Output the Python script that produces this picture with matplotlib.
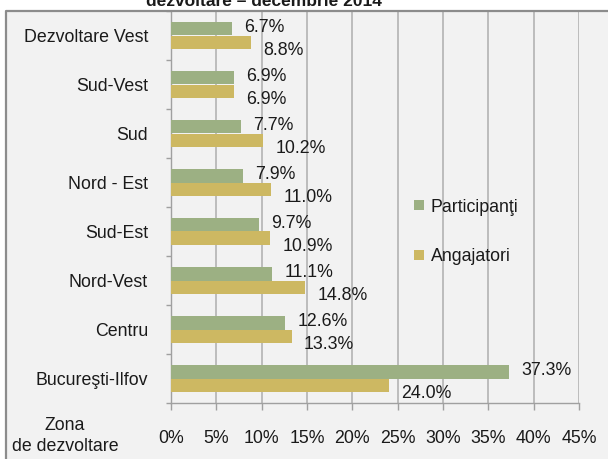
import matplotlib
matplotlib.use("Agg")
import matplotlib.pyplot as plt
import numpy as np
from matplotlib.lines import Line2D
from matplotlib.patches import Rectangle

categories = ["Dezvoltare Vest", "Sud-Vest", "Sud", "Nord - Est", "Sud-Est",
              "Nord-Vest", "Centru", "Bucureşti-Ilfov"]
participanti = [6.7, 6.9, 7.7, 7.9, 9.7, 11.1, 12.6, 37.3]
angajatori = [8.8, 6.9, 10.2, 11.0, 10.9, 14.8, 13.3, 24.0]
series_names = ["Participanţi", "Angajatori"]
xticks = [0, 5, 10, 15, 20, 25, 30, 35, 40, 45]
title = "dezvoltare – decembrie 2014"
axis_title = "Zona\nde dezvoltare"

plt.rcParams['font.family'] = ['Liberation Sans', 'DejaVu Sans']
FS = 12.8
TXT = "#1a1a1a"
GREEN = "#9cb083"
YELLOW = "#cdb862"
BG = "#f2f2f2"

W, H = 608, 459
fig = plt.figure(figsize=(W / 100, H / 100), dpi=100, facecolor="white")

# outer chart box
fig.patches.append(Rectangle((6 / W, 0), 1 - 6 / W, 1 - 11 / H, transform=fig.transFigure,
                             facecolor=BG, edgecolor="none", zorder=-10))
fig.lines.append(Line2D([6 / W, 6 / W, 1], [0, 1 - 11 / H, 1 - 11 / H], transform=fig.transFigure,
                        color="#8c8c8c", lw=1.6, zorder=10))

x0, x1 = 171, 579
y0, y1 = 11, 403
ax = fig.add_axes([x0 / W, 1 - y1 / H, (x1 - x0) / W, (y1 - y0) / H])
ax.set_zorder(5)
ax.set_facecolor(BG)
ax.patch.set_alpha(0)

n = len(categories)
pos = np.arange(n)
bh = 0.28
ax.barh(pos - bh / 2, participanti, height=bh, color=GREEN, zorder=3, label=series_names[0])
ax.barh(pos + bh / 2, angajatori, height=bh, color=YELLOW, zorder=3, label=series_names[1])

ax.set_ylim(n - 0.5, -0.5)
ax.set_xlim(0, 45)

for i in range(n):
    ax.annotate(f"{participanti[i]:.1f}%", (participanti[i], pos[i] - bh / 2), xytext=(9, 1),
                textcoords="offset points", va="center", ha="left", fontsize=FS, color=TXT, zorder=4)
    ax.annotate(f"{angajatori[i]:.1f}%", (angajatori[i], pos[i] + bh / 2), xytext=(9, -6),
                textcoords="offset points", va="center", ha="left", fontsize=FS, color=TXT, zorder=4)

# grid
ax.set_xticks(xticks)
ax.set_xticklabels([f"{t}%" for t in xticks], fontsize=FS, color=TXT)
ax.xaxis.grid(True, color="#b3b3b3", lw=1.2, zorder=1)
ax.set_axisbelow(True)
ax.tick_params(axis="x", length=5, width=1, color="#a0a0a0", pad=14.5)

ax.set_yticks(pos)
ax.set_yticklabels(categories, fontsize=FS, color=TXT)
ax.set_yticks(np.arange(n + 1) - 0.5, minor=True)
ax.tick_params(axis="y", which="major", length=0, pad=16.5)
ax.tick_params(axis="y", which="minor", length=3.6, width=1, color="#a0a0a0")

for s in ["top", "right"]:
    ax.spines[s].set_visible(False)
for s in ["left", "bottom"]:
    ax.spines[s].set_color("#a0a0a0")
    ax.spines[s].set_linewidth(1)

# axis title
fig.text(65 / W, 1 - 436 / H, axis_title, ha="center", va="center", fontsize=FS, color=TXT,
         linespacing=1.35)

# truncated title
fig.text(264 / W, 1 - 6 / H, title, ha="center", va="baseline", fontsize=12.5,
         fontweight="bold", color=TXT)

# legend
handles = [Line2D([], [], marker="s", ls="none", markersize=6.5, color=GREEN, markeredgewidth=0),
           Line2D([], [], marker="s", ls="none", markersize=6.5, color=YELLOW, markeredgewidth=0)]
leg = fig.legend(handles, series_names, loc="center left", bbox_to_anchor=(405 / W, 1 - 232 / H),
                 frameon=False, fontsize=FS, labelcolor=TXT, handlelength=0.6, handletextpad=0.35,
                 labelspacing=1.85, borderpad=0)
leg.set_zorder(8)

fig.savefig("out.png", dpi=100, facecolor="white")
